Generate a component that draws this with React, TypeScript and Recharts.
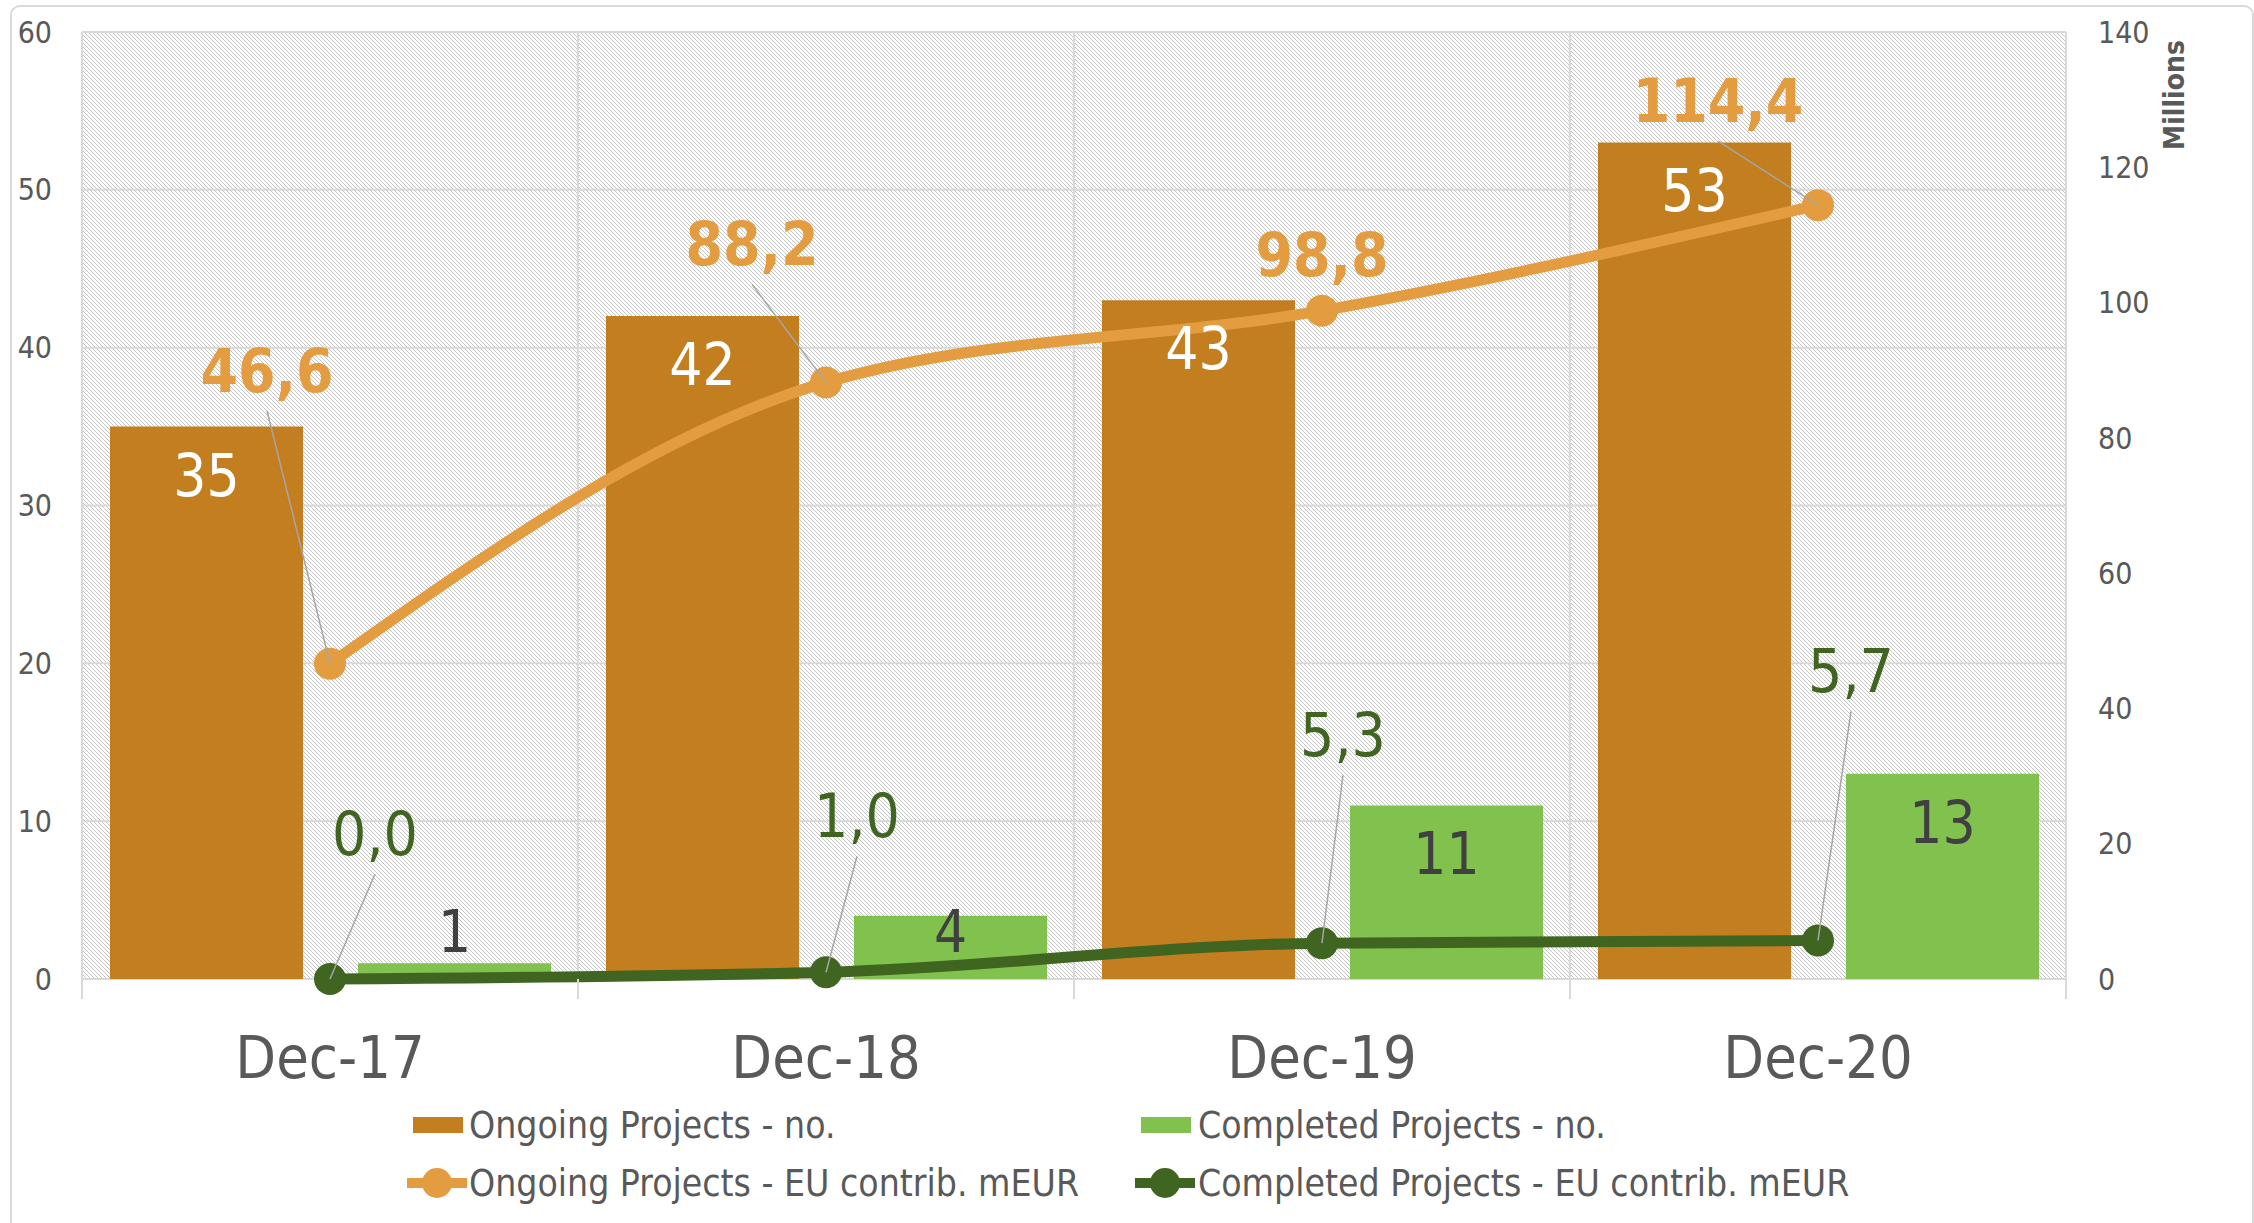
import React from 'react';
import {
  ComposedChart,
  Bar,
  Line,
  XAxis,
  YAxis,
  CartesianGrid,
  LabelList,
  Legend,
} from 'recharts';

// values
const categories = ['Dec-17', 'Dec-18', 'Dec-19', 'Dec-20'];
const ongoingCount = [35, 42, 43, 53];
const completedCount = [1, 4, 11, 13];
const ongoingContrib = [46.6, 88.2, 98.8, 114.4];
const completedContrib = [0.0, 1.0, 5.3, 5.7];
const leftTicks = [0, 10, 20, 30, 40, 50, 60];
const rightTicks = [0, 20, 40, 60, 80, 100, 120, 140];

const seriesNames = [
  'Ongoing Projects - no.',
  'Completed Projects - no.',
  'Ongoing Projects - EU contrib. mEUR',
  'Completed Projects - EU contrib. mEUR',
];

// label placement (px from the point), like Excel's dragged labels
const ongoingLabelOffsets = [[-63, -293], [-74, -138], [0, -56], [-100, -104]];
const completedLabelOffsets = [[45, -145], [31, -156], [21, -208], [33, -269]];
const ongoingLeader = [true, true, false, true];

const data = categories.map((cat, i) => ({
  cat,
  ongoingCount: ongoingCount[i],
  completedCount: completedCount[i],
  ongoingContrib: ongoingContrib[i],
  completedContrib: completedContrib[i],
}));

const FONT = '"DejaVu Sans Condensed", "DejaVu Sans", sans-serif';
const AXIS_GREY = '#595959';
const GRID = '#d9d9d9';
const ORANGE_BAR = '#C27E1F';
const GREEN_BAR = '#81C24F';
const ORANGE_LINE = '#E39D40';
const GREEN_LINE = '#3F6520';

const fmt = (v: number) => v.toFixed(1).replace('.', ',');

// eslint-disable-next-line @typescript-eslint/no-explicit-any
const CategoryTick = (props: any) => {
  const { x, y, payload, index, visibleTicksCount } = props;
  const half = payload && payload.offset ? payload.offset : 248;
  return (
    <g>
      <line x1={x - half} y1={y} x2={x - half} y2={y + 20} stroke={GRID} strokeWidth={2} />
      {index === visibleTicksCount - 1 && (
        <line x1={x + half} y1={y} x2={x + half} y2={y + 20} stroke={GRID} strokeWidth={2} />
      )}
      <text x={x} y={y + 99} textAnchor="middle" fill={AXIS_GREY} fontSize={59} fontFamily={FONT}>
        {payload.value}
      </text>
    </g>
  );
};

const makeBarLabel = (color: string) => {
  // eslint-disable-next-line @typescript-eslint/no-explicit-any
  return (props: any) => {
    const { x, y, width, height, value } = props;
    const cy = Math.min(y + 49, y + height - 47);
    return (
      <text
        x={x + width / 2}
        y={cy}
        textAnchor="middle"
        dominantBaseline="central"
        fill={color}
        fontSize={58}
        fontFamily={FONT}
      >
        {value}
      </text>
    );
  };
};

const makeLineLabel = (
  color: string,
  bold: boolean,
  offsets: number[][],
  leaders: boolean[],
) => {
  // eslint-disable-next-line @typescript-eslint/no-explicit-any
  return (props: any) => {
    const { index, value } = props;
    const px = props.x ?? props.viewBox?.x;
    const py = props.y ?? props.viewBox?.y;
    const [dx, dy] = offsets[index];
    const lx = px + dx;
    const ly = py + dy;
    return (
      <g>
        {leaders[index] && (
          <line x1={lx} y1={ly + 40} x2={px} y2={py} stroke="#a6a6a6" strokeWidth={1.5} />
        )}
        <text
          x={lx}
          y={ly}
          textAnchor="middle"
          dominantBaseline="central"
          fill={color}
          fontSize={60}
          fontWeight={bold ? 'bold' : 'normal'}
          fontFamily={FONT}
        >
          {fmt(value)}
        </text>
      </g>
    );
  };
};

// eslint-disable-next-line @typescript-eslint/no-explicit-any
const LegendGrid = (props: any) => {
  const payload = [...(props.payload || [])].sort(
    // eslint-disable-next-line @typescript-eslint/no-explicit-any
    (a: any, b: any) => seriesNames.indexOf(a.value) - seriesNames.indexOf(b.value),
  );
  const colIcon = [407, 1135];
  const colText = [469, 1198];
  const rowY = [1125, 1183];
  return (
    <svg width={2254} height={1223} style={{ position: 'absolute', left: 0, top: 0 }}>
      {/* eslint-disable-next-line @typescript-eslint/no-explicit-any */}
      {payload.map((entry: any, i: number) => {
        const c = i % 2;
        const r = Math.floor(i / 2);
        const cy = rowY[r];
        const ix = colIcon[c];
        return (
          <g key={entry.value}>
            {entry.type === 'rect' ? (
              <rect x={ix + 6} y={cy - 8} width={50} height={16} fill={entry.color} />
            ) : (
              <g>
                <line x1={ix} y1={cy} x2={ix + 60} y2={cy} stroke={entry.color} strokeWidth={10} />
                <circle cx={ix + 30} cy={cy} r={15} fill={entry.color} />
              </g>
            )}
            <text
              x={colText[c]}
              y={cy}
              dominantBaseline="central"
              fill={AXIS_GREY}
              fontSize={37}
              fontFamily={FONT}
            >
              {entry.value}
            </text>
          </g>
        );
      })}
    </svg>
  );
};

// eslint-disable-next-line @typescript-eslint/no-explicit-any
const MillionsLabel = (props: any) => {
  const { viewBox } = props;
  const cx = viewBox.x + 108;
  const cy = viewBox.y + 63;
  return (
    <text
      x={cx}
      y={cy}
      transform={`rotate(-90 ${cx} ${cy})`}
      textAnchor="middle"
      dominantBaseline="central"
      fill={AXIS_GREY}
      fontSize={28}
      fontWeight="bold"
      fontFamily={FONT}
    >
      Millions
    </text>
  );
};

const App: React.FC = () => {
  return (
    <div style={{ position: 'absolute', left: 0, top: 0, width: 2254, height: 1223, background: '#fff', overflow: 'hidden' }}>
      <svg width={0} height={0} style={{ position: 'absolute' }}>
        <defs>
          <pattern id="hatch" patternUnits="userSpaceOnUse" width={4} height={4}>
            <rect width={4} height={4} fill="#ffffff" />
            <g fill="#c4c4c4" shapeRendering="crispEdges">
              <rect x={0} y={0} width={1} height={1} />
              <rect x={1} y={1} width={1} height={1} />
              <rect x={2} y={2} width={1} height={1} />
              <rect x={3} y={3} width={1} height={1} />
            </g>
          </pattern>
        </defs>
      </svg>
      <div
        style={{
          position: 'absolute',
          left: 10,
          top: 5,
          width: 2240,
          height: 1240,
          border: `2px solid ${GRID}`,
          borderRadius: 10,
          pointerEvents: 'none',
        }}
      />
      <div style={{ position: 'absolute', left: 0, top: 0 }}>
        <ComposedChart
          width={2254}
          height={1223}
          data={data}
          margin={{ top: 32, right: 0, bottom: 0, left: 0 }}
          barCategoryGap={28}
          barGap={55}
        >
          <CartesianGrid
            yAxisId="left"
            stroke={GRID}
            strokeWidth={2}
            fill="url(#hatch)"
            verticalCoordinatesGenerator={({ offset }: { offset: { left: number; width: number } }) =>
              [0, 1, 2, 3, 4].map((i) => offset.left + (offset.width * i) / 4)
            }
          />
          <XAxis
            dataKey="cat"
            height={244}
            axisLine={false}
            tickLine={false}
            tickSize={0}
            tickMargin={0}
            tick={<CategoryTick />}
            interval={0}
          />
          <YAxis
            yAxisId="left"
            orientation="left"
            width={82}
            domain={[0, 60]}
            ticks={leftTicks}
            axisLine={false}
            tickLine={false}
            tickSize={0}
            tickMargin={30}
            tick={{ fill: AXIS_GREY, fontSize: 30, fontFamily: FONT }}
          />
          <YAxis
            yAxisId="right"
            orientation="right"
            width={188}
            domain={[0, 140]}
            ticks={rightTicks}
            axisLine={false}
            tickLine={false}
            tickSize={0}
            tickMargin={32}
            tick={{ fill: AXIS_GREY, fontSize: 30, fontFamily: FONT, textAnchor: 'start' }}
            label={<MillionsLabel />}
          />
          <Bar yAxisId="left" dataKey="ongoingCount" name={seriesNames[0]} fill={ORANGE_BAR} isAnimationActive={false}>
            <LabelList dataKey="ongoingCount" content={makeBarLabel('#ffffff')} />
          </Bar>
          <Bar yAxisId="left" dataKey="completedCount" name={seriesNames[1]} fill={GREEN_BAR} isAnimationActive={false}>
            <LabelList dataKey="completedCount" content={makeBarLabel('#404040')} />
          </Bar>
          <Line
            yAxisId="right"
            dataKey="ongoingContrib"
            name={seriesNames[2]}
            type="monotone"
            stroke={ORANGE_LINE}
            strokeWidth={11}
            dot={{ r: 16, fill: ORANGE_LINE, stroke: ORANGE_LINE, strokeWidth: 0 }}
            isAnimationActive={false}
          >
            <LabelList
              dataKey="ongoingContrib"
              content={makeLineLabel(ORANGE_LINE, true, ongoingLabelOffsets, ongoingLeader)}
            />
          </Line>
          <Line
            yAxisId="right"
            dataKey="completedContrib"
            name={seriesNames[3]}
            type="monotone"
            stroke={GREEN_LINE}
            strokeWidth={11}
            dot={{ r: 16, fill: GREEN_LINE, stroke: GREEN_LINE, strokeWidth: 0 }}
            isAnimationActive={false}
          >
            <LabelList
              dataKey="completedContrib"
              content={makeLineLabel(GREEN_LINE, false, completedLabelOffsets, [true, true, true, true])}
            />
          </Line>
          <Legend
            layout="horizontal"
            verticalAlign="middle"
            align="center"
            content={<LegendGrid />}
            wrapperStyle={{ left: 0, top: 0, width: 2254, height: 1223, pointerEvents: 'none' }}
          />
        </ComposedChart>
      </div>
    </div>
  );
};

export default App;
